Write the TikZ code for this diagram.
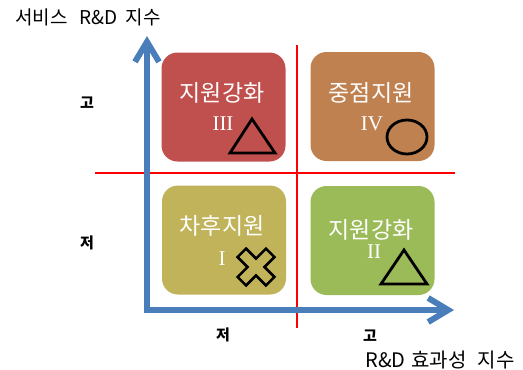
\documentclass[tikz,border=0pt]{standalone}
\usepackage{fontspec}
\setmainfont{Liberation Serif}
\newfontfamily\kr{Noto Sans CJK KR}
\usetikzlibrary{arrows.meta}
\definecolor{axisblue}{RGB}{74,126,187}
\definecolor{qred}{RGB}{192,80,77}
\definecolor{qbrown}{RGB}{192,129,80}
\definecolor{qolive}{RGB}{192,179,90}
\definecolor{qgreen}{RGB}{155,187,89}
\tikzset{
  quad/.style={rectangle, rounded corners=16pt, minimum width=124pt, minimum height=109pt, inner sep=0pt, draw=none},
  qtitle/.style={text=white, font=\kr\fontsize{23}{23}\selectfont, inner sep=0pt},
  numeral/.style={text=white, font=\fontsize{21}{21}\selectfont, inner sep=0pt},
  symb/.style={draw=black, line width=2.8pt, line join=miter},
  axisline/.style={draw=axisblue, line width=6pt, line join=miter},
  divider/.style={draw=red, line width=2.4pt},
  level/.style={font=\kr\bfseries\fontsize{15}{15}\selectfont, inner sep=0pt},
  axislabel/.style={font=\kr\fontsize{20}{20}\selectfont, inner sep=0pt},
  tipbarb/.tip={Straight Barb[length=20pt,width=24pt]}
}
\begin{document}
\begin{tikzpicture}[x=1pt,y=-1pt]
\useasboundingbox (0,0) rectangle (523,370);
% quadrant boxes
\node[quad, fill=qred]   (q3) at (223.5,107) {};
\node[quad, fill=qbrown] (q4) at (372.5,106.5) {};
\node[quad, fill=qolive] (q1) at (224,240) {};
\node[quad, fill=qgreen] (q2) at (372.5,240.5) {};
% titles
\node[qtitle] (t3) at (222,93) {지원강화};
\node[qtitle] (t4) at (371,93) {중점지원};
\node[qtitle] (t1) at (222,226) {차후지원};
\node[qtitle] (t2) at (371,230) {지원강화};
% numerals
\node[numeral] (n3) at (223,124) {III};
\node[numeral] (n4) at (372,124) {IV};
\node[numeral] (n1) at (222,259) {I};
\node[numeral] (n2) at (374,252) {II};
% symbols
\draw[symb] (252,119) -- (275,153) -- (230,153) -- cycle;
\draw[symb] (404,250) -- (427,284) -- (381,284) -- cycle;
\draw[symb] (407,137) ellipse [x radius=20pt, y radius=17pt];
\draw[symb, shift={(256,267)}, rotate=45, line width=2.5pt]
  (20,-6) -- (20,6) -- (6,6) -- (6,20) -- (-6,20) -- (-6,6) -- (-20,6) -- (-20,-6)
  -- (-6,-6) -- (-6,-20) -- (6,-20) -- (6,-6) -- cycle;
% dividers
\coordinate (hl) at (95,173);
\coordinate (hr) at (455,173);
\coordinate (vt) at (297,45);
\coordinate (vb) at (297,328);
\draw[divider] (hl) -- (hr);
\draw[divider] (vt) -- (vb);
% axes
\coordinate (ytop) at (147,36);
\coordinate (origin) at (147,310);
\coordinate (xend) at (454,310);
\draw[axisline, tipbarb-tipbarb] (ytop) -- (origin) -- (xend);
% labels
\node[axislabel, font=\kr\fontsize{19}{19}\selectfont] (ylab) at (88,17) {서비스\hspace{12pt}R\&D\hspace{8pt}지수};
\node[axislabel] (xlab) at (440,360) {R\&D\hspace{6pt}효과성\hspace{11pt}지수};
\node[level] (yhi) at (87,103) {고};
\node[level] (ylo) at (87,243) {저};
\node[level] (xlo) at (223,335) {저};
\node[level] (xhi) at (370,336) {고};
\end{tikzpicture}
\end{document}
